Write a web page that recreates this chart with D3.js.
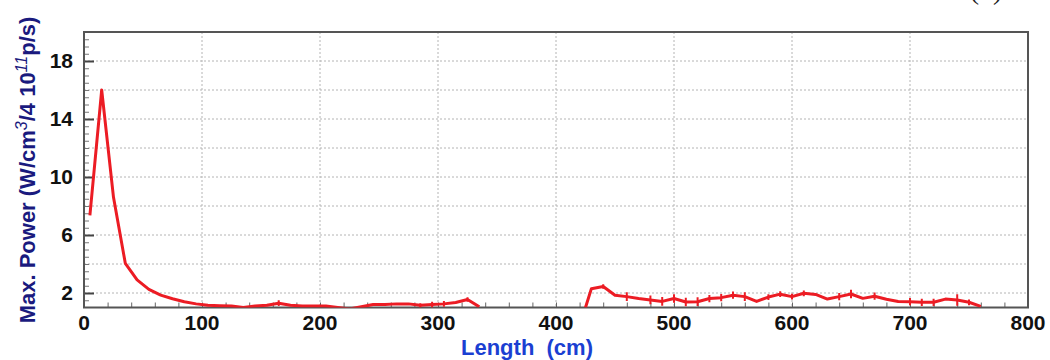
<!DOCTYPE html>
<html>
<head>
<meta charset="utf-8">
<script src="https://cdn.jsdelivr.net/npm/d3@7/dist/d3.min.js"></script>
<style>
  html, body { margin: 0; padding: 0; background: #fff; }
  svg { display: block; }
</style>
</head>
<body>
<svg id="chart" width="1050" height="360"></svg>
<script>
// Upstream section (cm) and peak power
const lengthA = [5, 15, 25, 35, 45, 55, 65, 75, 85, 95, 105, 115, 125, 135, 145, 155, 165, 175, 185, 195,
                 205, 215, 225, 235, 245, 255, 265, 275, 285, 295, 305, 315, 325, 335];
const powerA  = [7.35, 16.0, 8.6, 4.05, 2.9, 2.25, 1.85, 1.6, 1.4, 1.25, 1.15, 1.12, 1.1, 1.0, 1.1, 1.15, 1.3, 1.15, 1.1, 1.1,
                 1.1, 1.0, 0.9, 1.05, 1.2, 1.2, 1.25, 1.25, 1.15, 1.2, 1.25, 1.35, 1.55, 1.05];
const errA    = [0, 0, 0, 0, 0, 0, 0, 0, 0, 0, 0, 0, 0, 0, 0, 0, 0.2, 0, 0, 0,
                 0, 0, 0, 0, 0, 0, 0, 0, 0.15, 0.2, 0.2, 0, 0.15, 0];

// Downstream section (cm) and peak power
const lengthB = [425, 430, 440, 450, 460, 470, 480, 490, 500, 510, 520, 530, 540, 550, 560, 570, 580, 590, 600, 610,
                 620, 630, 640, 650, 660, 670, 680, 690, 700, 710, 720, 730, 740, 750, 760];
const powerB  = [1.0, 2.3, 2.45, 1.85, 1.75, 1.62, 1.52, 1.42, 1.62, 1.38, 1.4, 1.62, 1.68, 1.85, 1.75, 1.42, 1.72, 1.92, 1.75, 1.98,
                 1.9, 1.58, 1.75, 1.93, 1.63, 1.78, 1.57, 1.42, 1.4, 1.36, 1.36, 1.58, 1.52, 1.36, 1.08];
const errB    = [0, 0, 0.15, 0, 0.3, 0, 0.3, 0.3, 0.3, 0.3, 0.3, 0.25, 0.25, 0.25, 0.3, 0, 0.2, 0.2, 0.2, 0.2,
                 0, 0, 0.25, 0.3, 0, 0.25, 0, 0, 0.25, 0.25, 0.25, 0, 0.4, 0.2, 0];

const xLabelTicks = [0, 100, 200, 300, 400, 500, 600, 700, 800];
const yLabelTicks = [2, 6, 10, 14, 18];
const yGridTicks  = [2, 4, 6, 8, 10, 12, 14, 16, 18];

const svg = d3.select("#chart");
const plot = { left: 84, right: 1028, top: 32, bottom: 307.5 };

const x = d3.scaleLinear().domain([0, 800]).range([plot.left, plot.right]);
const y = d3.scaleLinear().domain([1, 20]).range([plot.bottom, plot.top]);

svg.append("defs").append("clipPath").attr("id", "plotClip")
  .append("rect")
  .attr("x", plot.left).attr("y", plot.top)
  .attr("width", plot.right - plot.left).attr("height", plot.bottom - plot.top);

// Dotted grid
const grid = svg.append("g").attr("stroke", "#b4b4b4").attr("stroke-width", 1).attr("stroke-dasharray", "2,2");
grid.selectAll(".gx").data(d3.range(100, 800, 100)).join("line")
  .attr("x1", d => x(d)).attr("x2", d => x(d))
  .attr("y1", plot.top).attr("y2", plot.bottom);
grid.selectAll(".gy").data(yGridTicks).join("line")
  .attr("x1", plot.left).attr("x2", plot.right)
  .attr("y1", d => y(d)).attr("y2", d => y(d));

// Inward ticks on the bottom and left axes
const bottomAxis = d3.axisTop(x).tickValues(d3.range(20, 800, 20)).tickSize(5).tickFormat("");
svg.append("g").attr("transform", `translate(0,${plot.bottom})`).call(bottomAxis)
  .call(g => g.select(".domain").remove())
  .call(g => g.selectAll("line").attr("stroke", "#666").attr("stroke-width", 1));

const leftMinor = d3.axisRight(y).tickValues(d3.range(1.5, 20, 0.5).filter(v => !yLabelTicks.includes(v))).tickSize(5).tickFormat("");
svg.append("g").attr("transform", `translate(${plot.left},0)`).call(leftMinor)
  .call(g => g.select(".domain").remove())
  .call(g => g.selectAll("line").attr("stroke", "#777").attr("stroke-width", 1));
const leftMajor = d3.axisRight(y).tickValues(yLabelTicks).tickSize(10).tickFormat("");
svg.append("g").attr("transform", `translate(${plot.left},0)`).call(leftMajor)
  .call(g => g.select(".domain").remove())
  .call(g => g.selectAll("line").attr("stroke", "#444").attr("stroke-width", 2));

// Frame
svg.append("rect")
  .attr("x", plot.left).attr("y", plot.top)
  .attr("width", plot.right - plot.left).attr("height", plot.bottom - plot.top)
  .attr("fill", "none").attr("stroke", "#555").attr("stroke-width", 2);

// Tick labels
svg.append("g").selectAll("text").data(xLabelTicks).join("text")
  .attr("x", d => x(d)).attr("y", 330)
  .attr("text-anchor", "middle")
  .attr("font-family", "Liberation Sans, Arial, sans-serif")
  .attr("font-weight", "bold").attr("font-size", 21).attr("fill", "#111")
  .text(d => d);
svg.append("g").selectAll("text").data(yLabelTicks).join("text")
  .attr("x", 73).attr("y", d => y(d) + 7)
  .attr("text-anchor", "end")
  .attr("font-family", "Liberation Sans, Arial, sans-serif")
  .attr("font-weight", "bold").attr("font-size", 21).attr("fill", "#111")
  .text(d => d);

// Curves
const line = d3.line().x(d => x(d[0])).y(d => y(d[1]));
const series = [
  { xs: lengthA, ys: powerA, es: errA },
  { xs: lengthB, ys: powerB, es: errB }
];
const curves = svg.append("g").attr("clip-path", "url(#plotClip)");
series.forEach(s => {
  const pts = s.xs.map((v, i) => [v, s.ys[i], s.es[i]]);
  curves.append("path").datum(pts)
    .attr("d", line)
    .attr("fill", "none").attr("stroke", "#ec1c24")
    .attr("stroke-width", 3).attr("stroke-linejoin", "round");
  curves.append("g").selectAll("line").data(pts.filter(p => p[2] > 0)).join("line")
    .attr("x1", p => x(p[0])).attr("x2", p => x(p[0]))
    .attr("y1", p => y(p[1] - p[2])).attr("y2", p => y(p[1] + p[2]))
    .attr("stroke", "#ec1c24").attr("stroke-width", 2);
});

// Axis titles
svg.append("text")
  .attr("x", 527).attr("y", 355)
  .attr("text-anchor", "middle")
  .attr("font-family", "Liberation Sans, Arial, sans-serif")
  .attr("font-weight", "bold").attr("font-size", 22).attr("fill", "#1b3fd2")
  .attr("xml:space", "preserve")
  .text("Length  (cm)");

const yTitle = svg.append("text")
  .attr("transform", "translate(35,170) rotate(-90)")
  .attr("text-anchor", "middle")
  .attr("font-family", "Liberation Sans, Arial, sans-serif")
  .attr("font-weight", "bold").attr("font-size", 22).attr("fill", "#1a1a7e");
yTitle.append("tspan").text("Max. Power (W/cm");
yTitle.append("tspan").attr("font-style", "italic").attr("font-weight", "normal").attr("font-size", 16).attr("dy", -8).text("3");
yTitle.append("tspan").attr("dy", 8).text("/4 10");
yTitle.append("tspan").attr("font-style", "italic").attr("font-weight", "normal").attr("font-size", 16).attr("dy", -8).text("11");
yTitle.append("tspan").attr("dy", 8).text("p/s)");

// Panel tag, mostly above the top edge
svg.append("text")
  .attr("x", 986).attr("y", -1)
  .attr("text-anchor", "middle")
  .attr("font-family", "Liberation Serif, Times New Roman, serif")
  .attr("font-size", 28).attr("fill", "#222")
  .text("(b)");
</script>
</body>
</html>
